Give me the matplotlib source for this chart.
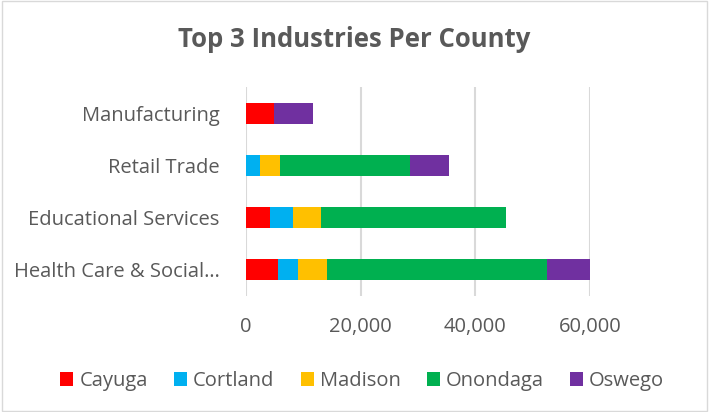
import matplotlib.pyplot as plt
import numpy as np
from matplotlib.patches import Rectangle

# Data
industries = ["Manufacturing", "Retail Trade", "Educational Services", "Health Care & Social\u2026"]
counties = ["Cayuga", "Cortland", "Madison", "Onondaga", "Oswego"]
cayuga = [4800, 0, 4150, 5550]
cortland = [0, 2450, 4050, 3600]
madison = [0, 3550, 4800, 4900]
onondaga = [0, 22600, 32400, 38550]
oswego = [6900, 6750, 0, 7550]
colors = ["#FF0000", "#00B0F0", "#FFC000", "#00B050", "#7030A0"]
xticks = [0, 20000, 40000, 60000]

plt.rcParams['font.family'] = ['Open Sans', 'DejaVu Sans']
text_color = "#595959"

fig = plt.figure(figsize=(7.09, 4.12), dpi=100)
ax = fig.add_axes([0.347, 0.2816, 0.485, 0.5074])

# categories from top to bottom
y = np.arange(len(industries))[::-1]
left = np.zeros(len(industries))
series = [cayuga, cortland, madison, onondaga, oswego]
for name, vals, c in zip(counties, series, colors):
    vals = np.array(vals, dtype=float)
    ax.barh(y, vals, left=left, height=0.4, color=c, label=name, zorder=3)
    left += vals

ax.set_xlim(0, 60000)
ax.set_ylim(-0.5, len(industries) - 0.5)
ax.set_xticks(xticks)
ax.set_xticklabels([f"{v:,}" for v in xticks])
ax.set_yticks(y)
ax.set_yticklabels(industries)
ax.tick_params(length=0, labelsize=14.5, colors=text_color)
ax.tick_params(axis='x', pad=15)
ax.tick_params(axis='y', pad=19)
ax.grid(axis='x', color="#D9D9D9", linewidth=1.5, zorder=0)
for s in ax.spines.values():
    s.set_visible(False)

fig.text(0.5, 0.905, "Top 3 Industries Per County", ha='center', va='center',
         fontsize=18.5, fontweight='bold', color=text_color)

leg = fig.legend(loc='center', bbox_to_anchor=(0.511, 0.075), ncol=5, frameon=False,
                 fontsize=14.5, handlelength=0.65, handleheight=0.65, handletextpad=0.3,
                 columnspacing=1.3)
for t in leg.get_texts():
    t.set_color(text_color)

# chart border
fig.patches.append(Rectangle((0.003, 0.003), 0.994, 0.994, transform=fig.transFigure,
                             fill=False, edgecolor="#D9D9D9", linewidth=1))

fig.savefig("out.png", dpi=100)
